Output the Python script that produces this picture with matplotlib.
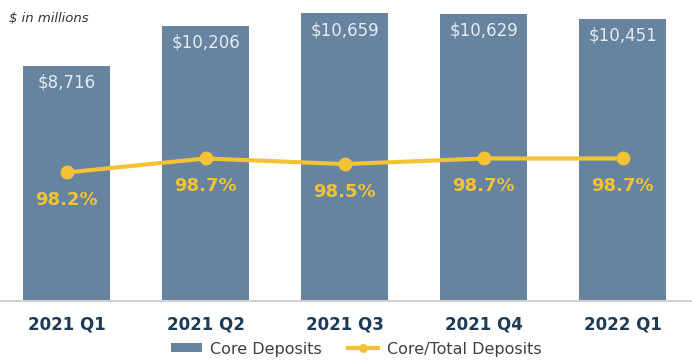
import matplotlib
matplotlib.use('Agg')
import matplotlib.pyplot as plt

# Quarterly core deposits ($ in millions) and core/total deposit ratio (%)
quarters = ['2021 Q1', '2021 Q2', '2021 Q3', '2021 Q4', '2022 Q1']
core_deposits = [8716, 10206, 10659, 10629, 10451]
core_ratio = [98.2, 98.7, 98.5, 98.7, 98.7]

bar_color = '#66839f'
line_color = '#f3c235'
label_color = '#1f3a55'

plt.rcParams['font.family'] = ['DejaVu Sans']

fig = plt.figure(figsize=(6.92, 3.61), dpi=100)
ax = fig.add_axes([0, 0.167, 1, 0.833])
x = list(range(len(quarters)))

bars = ax.bar(x, core_deposits, width=0.625, color=bar_color, label='Core Deposits', zorder=2)
for bar, val in zip(bars, core_deposits):
    ax.annotate(f'${val:,}', (bar.get_x() + bar.get_width() / 2, val),
                xytext=(0, -12), textcoords='offset points',
                ha='center', va='center', fontsize=12, color='#e4ebf3', zorder=3)

ax.set_xlim(-0.48, 4.5)
ax.set_ylim(0, 11158)
ax.set_yticks([])
for side in ['top', 'right', 'left']:
    ax.spines[side].set_visible(False)
ax.spines['bottom'].set_color('#d0d0d0')
ax.spines['bottom'].set_linewidth(1.5)
ax.set_xticks(x)
ax.set_xticklabels(quarters, fontsize=12, fontweight='bold', color=label_color)
ax.tick_params(axis='x', length=0, pad=11)

# Ratio line on its own scale
ax2 = ax.twinx()
ax2.plot(x, core_ratio, color=line_color, linewidth=3, marker='o', markersize=9,
         label='Core/Total Deposits', zorder=4)
for xi, val in zip(x, core_ratio):
    ax2.annotate(f'{val:.1f}%', (xi, val), xytext=(0, -20), textcoords='offset points',
                 ha='center', va='center', fontsize=13, fontweight='bold', color=line_color)
ax2.set_ylim(93.62, 104.36)
ax2.set_yticks([])
for side in ['top', 'right', 'left', 'bottom']:
    ax2.spines[side].set_visible(False)

fig.text(0.013, 0.95, '$ in millions', fontsize=9.5, style='italic', color='#333333',
         ha='left', va='center')

h1, l1 = ax.get_legend_handles_labels()
h2, l2 = ax2.get_legend_handles_labels()
fig.legend(h1 + h2, l1 + l2, loc='center', bbox_to_anchor=(0.515, 0.033), ncol=2,
           frameon=False, fontsize=11.5, handlelength=1.9, handleheight=0.5,
           handletextpad=0.55, columnspacing=1.6, labelcolor='#404040', markerscale=0.6)

fig.savefig('out.png', dpi=100)
